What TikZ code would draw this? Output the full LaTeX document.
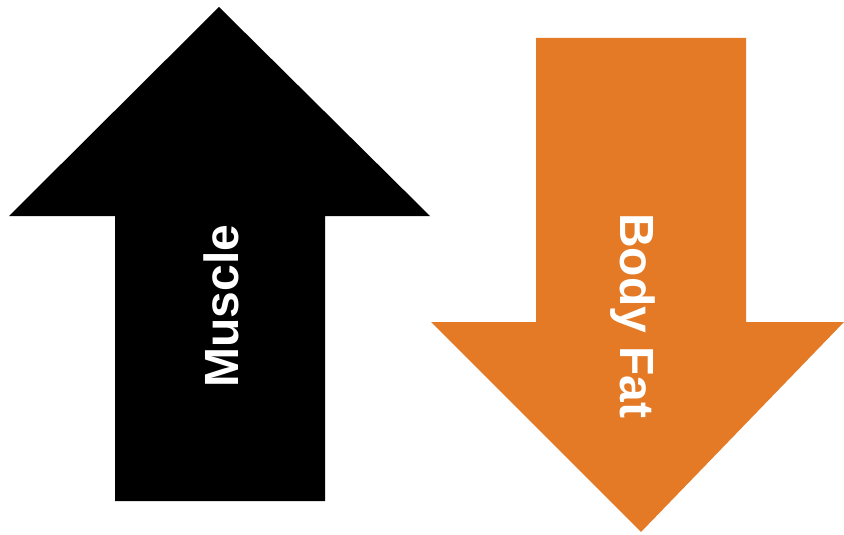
\documentclass[tikz,border=0pt]{standalone}
\usepackage{fontspec}
\setmainfont{Liberation Sans}
\definecolor{fatorange}{RGB}{228,122,37}
\begin{document}
\begin{tikzpicture}[x=1pt,y=-1pt,
  arrowlabel/.style={text=white,font=\fontsize{48}{48}\selectfont\bfseries,inner sep=0pt,anchor=base}]
\useasboundingbox (0,0) rectangle (844,535);
\fill[black] (219,7) -- (430,216) -- (325,216) -- (325,501) -- (115,501) -- (115,216) -- (9,216) -- cycle;
\fill[fatorange] (536,38) -- (746,38) -- (746,322) -- (844,322) -- (641,532) -- (431,322) -- (536,322) -- cycle;
\node[arrowlabel,rotate=90] (muscle) at (238,306) {Muscle};
\node[arrowlabel,rotate=-90] (fat) at (620,316) {Body Fat};
\end{tikzpicture}
\end{document}
